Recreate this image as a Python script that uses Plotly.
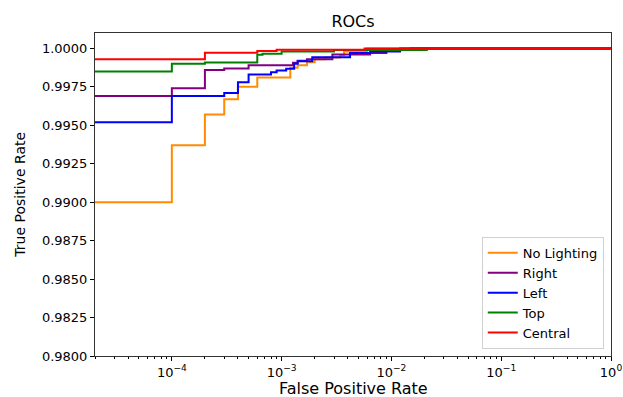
import plotly.graph_objects as go

# ---- data ----
names = ["No Lighting", "Right", "Left", "Top", "Central"]
colors = ["#ff8c00", "#800080", "#0000ff", "#008000", "#ff0000"]

fpr_none = [1e-5, 1e-4, 2e-4, 3e-4, 4e-4, 6e-4, 1.2e-3, 1.4e-3, 1.7e-3, 2.0e-3, 2.5e-3, 3.4e-3, 3.7e-3, 6e-3, 1.0]
tpr_none = [0.9900, 0.9937, 0.9957, 0.9967, 0.9975, 0.9981, 0.99874, 0.9989, 0.9991, 0.9993, 0.9994, 0.99955, 0.9998, 1.0, 1.0]

fpr_right = [1e-5, 1e-4, 2e-4, 3e-4, 5e-4, 1.27e-3, 1.4e-3, 1.7e-3, 2.9e-3, 6.4e-3, 9e-3, 1.5e-2, 1.0]
tpr_right = [0.9969, 0.9974, 0.9986, 0.9987, 0.9989, 0.99906, 0.9992, 0.9993, 0.9996, 0.9997, 0.9999, 1.0, 1.0]

fpr_left = [1e-5, 1e-4, 3e-4, 4e-4, 5e-4, 8e-4, 9e-4, 1.1e-3, 1.3e-3, 1.4e-3, 1.9e-3, 4.2e-3, 6.4e-3, 1.2e-2, 1.0]
tpr_left = [0.9952, 0.9969, 0.9971, 0.9978, 0.9983, 0.99845, 0.99856, 0.99867, 0.9990, 0.99917, 0.99943, 0.9997, 0.9998, 1.0, 1.0]

fpr_top = [1e-5, 1e-4, 2e-4, 6e-4, 6.7e-4, 1.0e-3, 3e-3, 2.1e-2, 1.0]
tpr_top = [0.9985, 0.9990, 0.99908, 0.99959, 0.99965, 0.9998, 0.9999, 1.0, 1.0]

fpr_central = [1e-5, 2e-4, 6e-4, 9e-4, 5.7e-3, 1.0]
tpr_central = [0.9993, 0.99972, 0.99983, 0.99991, 1.0, 1.0]

series = [
    (fpr_none, tpr_none),
    (fpr_right, tpr_right),
    (fpr_left, tpr_left),
    (fpr_top, tpr_top),
    (fpr_central, tpr_central),
]

y_ticks = [0.98 + 0.0025 * i for i in range(9)]
x_ticks = [1e-4, 1e-3, 1e-2, 1e-1, 1.0]
x_tick_text = ["10<sup>−4</sup>", "10<sup>−3</sup>", "10<sup>−2</sup>", "10<sup>−1</sup>", "10<sup>0</sup>"]
x_minor = [m * 10.0 ** e for e in range(-5, 0) for m in range(2, 10)]

font = "DejaVu Sans, Verdana, sans-serif"

fig = go.Figure()
for name, color, (fx, ty) in zip(names, colors, series):
    fig.add_trace(go.Scatter(
        x=fx, y=ty, name=name, mode="lines",
        line=dict(color=color, width=2, shape="hv"),
    ))

fig.update_layout(
    template="none",
    width=623, height=397,
    margin=dict(l=95, r=12, t=33, b=41, autoexpand=False),
    paper_bgcolor="white", plot_bgcolor="white",
    font=dict(family=font, color="black", size=12),
    title=dict(text="ROCs", x=(353 / 623), xanchor="center", y=1 - 21 / 397, yanchor="middle",
               font=dict(size=16, family=font, color="black")),
    showlegend=True,
    legend=dict(
        x=0.986, y=0.022, xanchor="right", yanchor="bottom",
        bgcolor="rgba(255,255,255,0.8)", bordercolor="#d0d0d0", borderwidth=1,
        font=dict(size=13, family=font, color="black"),
        itemwidth=30, tracegroupgap=0,
    ),
    annotations=[
        dict(text="False Positive Rate", xref="paper", yref="paper",
             x=0.5, y=-0.1, xanchor="center", yanchor="middle", showarrow=False,
             font=dict(size=16, family=font, color="black")),
        dict(text="True Positive Rate", xref="paper", yref="paper",
             x=-0.147, y=0.5, xanchor="center", yanchor="middle", showarrow=False,
             textangle=-90, font=dict(size=14, family=font, color="black")),
    ],
)

fig.update_xaxes(
    type="log",
    range=[-4.70, 0],
    tickmode="array",
    tickvals=x_ticks,
    ticktext=x_tick_text,
    ticks="outside", ticklen=4, tickwidth=1, tickcolor="black",
    minor=dict(tickmode="array", tickvals=x_minor, ticks="outside", ticklen=2,
               tickwidth=0.8, tickcolor="black", showgrid=False),
    showgrid=False, zeroline=False, automargin=False,
    showline=True, linecolor="#333333", linewidth=1, mirror=True,
    tickfont=dict(size=13, family=font, color="black"),
)

fig.update_yaxes(
    range=[0.98, 1.001],
    tickmode="array",
    tickvals=y_ticks,
    ticktext=[f"{v:.4f}" for v in y_ticks],
    ticks="outside", ticklen=4, tickwidth=1, tickcolor="black",
    showgrid=False, zeroline=False, automargin=False,
    showline=True, linecolor="#333333", linewidth=1, mirror=True,
    tickfont=dict(size=13, family=font, color="black"),
)

fig.write_html(
    "out.html",
    config={"displayModeBar": False},
    post_script="document.body.style.margin='0';document.body.style.overflow='hidden';",
)
